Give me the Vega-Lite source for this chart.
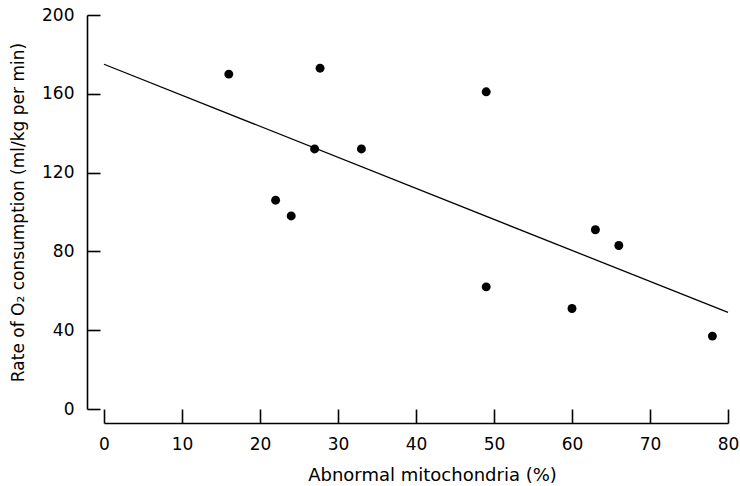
{
  "$schema": "https://vega.github.io/schema/vega-lite/v6.json",
  "autosize": {"type": "none"},
  "width": 624,
  "height": 394,
  "padding": {"left": 104, "top": 15, "right": 12, "bottom": 77},
  "background": "white",
  "config": {
    "view": {"stroke": null},
    "font": "DejaVu Sans",
    "axis": {
      "grid": false,
      "domainColor": "black",
      "domainWidth": 1.6,
      "tickColor": "black",
      "tickWidth": 1.6,
      "labelColor": "black",
      "titleColor": "black",
      "labelFont": "DejaVu Sans",
      "titleFont": "DejaVu Sans",
      "labelFontSize": 17,
      "titleFontWeight": "normal"
    }
  },
  "layer": [
    {
      "data": {"values": [
        {"x": 0, "y": 175},
        {"x": 80, "y": 49}
      ]},
      "mark": {"type": "line", "color": "black", "strokeWidth": 1.3},
      "encoding": {
        "x": {"field": "x", "type": "quantitative"},
        "y": {"field": "y", "type": "quantitative"}
      }
    },
    {
      "data": {"values": [
        {"x": 16, "y": 170},
        {"x": 27.7, "y": 173},
        {"x": 27, "y": 132},
        {"x": 33, "y": 132},
        {"x": 22, "y": 106},
        {"x": 24, "y": 98},
        {"x": 49, "y": 161},
        {"x": 63, "y": 91},
        {"x": 66, "y": 83},
        {"x": 49, "y": 62},
        {"x": 60, "y": 51},
        {"x": 78, "y": 37}
      ]},
      "mark": {"type": "point", "filled": true, "color": "black", "opacity": 1, "size": 80},
      "encoding": {
        "x": {
          "field": "x", "type": "quantitative",
          "scale": {"domain": [0, 80], "nice": false, "zero": false},
          "axis": {
            "title": "Abnormal mitochondria (%)",
            "titleFontSize": 18,
            "values": [0, 10, 20, 30, 40, 50, 60, 70, 80],
            "labelFlush": false,
            "offset": 14,
            "tickSize": -14,
            "labelPadding": 27,
            "titlePadding": 14,
            "titleX": 328
          }
        },
        "y": {
          "field": "y", "type": "quantitative",
          "scale": {"domain": [0, 200], "nice": false},
          "axis": {
            "title": "Rate of O₂ consumption (ml/kg per min)",
            "titleFontSize": 17,
            "values": [0, 40, 80, 120, 160, 200],
            "offset": 17,
            "tickSize": -13,
            "labelPadding": 26,
            "titlePadding": 14
          }
        }
      }
    }
  ]
}
